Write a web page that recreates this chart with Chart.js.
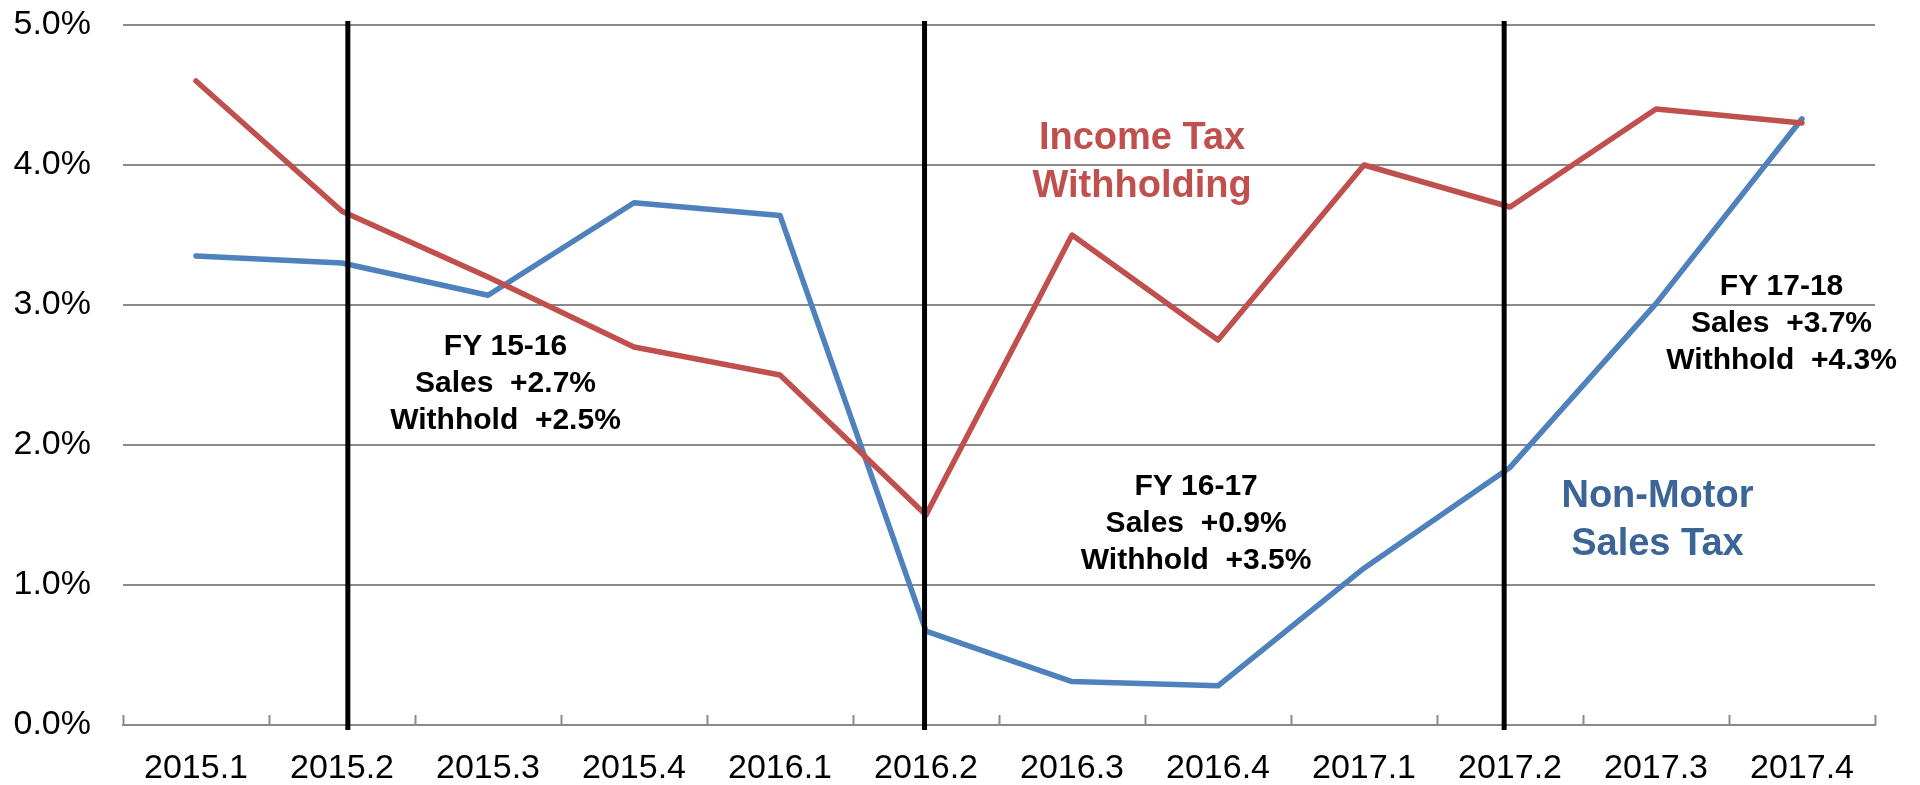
<!DOCTYPE html>
<html>
<head>
<meta charset="utf-8">
<script src="https://cdn.jsdelivr.net/npm/chart.js@4.4.0/dist/chart.umd.min.js"></script>
<style>
    html, body { margin: 0; padding: 0; background: #fff; }
    #wrap { width: 1920px; height: 785px; }
</style>
</head>
<body>
<div id="wrap"><canvas id="tax-chart"></canvas></div>
<script>
const quarters = ['2015.1', '2015.2', '2015.3', '2015.4', '2016.1', '2016.2',
    '2016.3', '2016.4', '2017.1', '2017.2', '2017.3', '2017.4'];
const withholding = [4.6, 3.67, 3.2, 2.7, 2.5, 1.5, 3.5, 2.75, 4.0, 3.7, 4.4, 4.3];
const salesTax = [3.35, 3.3, 3.07, 3.73, 3.64, 0.67, 0.31, 0.28, 1.12, 1.84, 3.01, 4.33];
const yTicks = [0, 1, 2, 3, 4, 5];
const fyBreaks = ['2015.2', '2016.2', '2017.2'];
const seriesNames = ['Income Tax Withholding', 'Non-Motor Sales Tax'];
const seriesLabelLines = [['Income Tax', 'Withholding'], ['Non-Motor', 'Sales Tax']];
const fyNotes = [
    ['FY 15-16', 'Sales  +2.7%', 'Withhold  +2.5%'],
    ['FY 16-17', 'Sales  +0.9%', 'Withhold  +3.5%'],
    ['FY 17-18', 'Sales  +3.7%', 'Withhold  +4.3%']
];

const red = '#C0504D';
const blue = '#4F81BD';
const gridGrey = '#8a8a8a';
const tickFont = {family: '"Liberation Sans", Arial, sans-serif', size: 34};

// where the text blocks sit, in axis units (category index, percent)
const notePlaces = [{x: 2.12, y: 2.70}, {x: 6.85, y: 1.70}, {x: 10.86, y: 3.13}];
const seriesLabelPlaces = [{x: 6.48, y: 4.19, color: red}, {x: 10.01, y: 1.63, color: '#3B6497'}];
// the separators in the original are hand placed, a little off the quarter centres
const breakNudge = [0.04, -0.01, -0.04];

const extras = {
    id: 'extras',
    afterDatasetsDraw(chart) {
        const ctx = chart.ctx;
        const x = chart.scales.x;
        const y = chart.scales.y;
        const area = chart.chartArea;
        ctx.save();

        // small tick marks on the category axis
        ctx.strokeStyle = gridGrey;
        ctx.lineWidth = 2;
        for (let i = 0; i <= quarters.length; i++) {
            const px = Math.round(x.getPixelForValue(i - 0.5)) + 0.5;
            ctx.beginPath();
            ctx.moveTo(px, area.bottom);
            ctx.lineTo(px, area.bottom - 10);
            ctx.stroke();
        }

        // fiscal year separators
        ctx.strokeStyle = '#000';
        ctx.lineWidth = 5;
        fyBreaks.forEach((q, n) => {
            const px = x.getPixelForValue(quarters.indexOf(q) + breakNudge[n]);
            ctx.beginPath();
            ctx.moveTo(px, area.top - 4);
            ctx.lineTo(px, area.bottom + 5);
            ctx.stroke();
        });

        ctx.textAlign = 'center';
        ctx.textBaseline = 'middle';

        ctx.fillStyle = '#000';
        ctx.font = 'bold 30px "Liberation Sans", Arial, sans-serif';
        fyNotes.forEach((lines, n) => {
            const cx = x.getPixelForValue(notePlaces[n].x);
            const cy = y.getPixelForValue(notePlaces[n].y);
            lines.forEach((t, k) => ctx.fillText(t, cx, cy + k * 37));
        });

        ctx.font = 'bold 38px "Liberation Sans", Arial, sans-serif';
        seriesLabelLines.forEach((lines, n) => {
            const p = seriesLabelPlaces[n];
            ctx.fillStyle = p.color;
            const cx = x.getPixelForValue(p.x);
            const cy = y.getPixelForValue(p.y);
            lines.forEach((t, k) => ctx.fillText(t, cx, cy + k * 48));
        });
        ctx.restore();
    }
};

const taxChart = document.getElementById('tax-chart');

new Chart(taxChart, {
    type: 'line',
    data: {
        labels: quarters,
        datasets: [{
            label: seriesNames[0],
            data: withholding,
            borderColor: red,
            backgroundColor: red,
            borderWidth: 5.5,
            pointRadius: 0,
            tension: 0,
            borderJoinStyle: 'round',
            borderCapStyle: 'round'
        }, {
            label: seriesNames[1],
            data: salesTax,
            borderColor: blue,
            backgroundColor: blue,
            borderWidth: 5.5,
            pointRadius: 0,
            tension: 0,
            borderJoinStyle: 'round',
            borderCapStyle: 'round'
        }]
    },
    options: {
        responsive: true,
        maintainAspectRatio: false,
        animation: false,
        layout: {
            padding: {top: 25, right: 45, left: 12, bottom: 0}
        },
        plugins: {
            legend: {display: false},
            tooltip: {enabled: false}
        },
        scales: {
            x: {
                offset: true,
                grid: {display: false, drawTicks: false},
                border: {display: true, color: gridGrey, width: 2},
                afterFit: axis => { axis.height = 60; },
                ticks: {
                    color: '#000',
                    padding: 23,
                    maxRotation: 0,
                    autoSkip: false,
                    font: tickFont
                }
            },
            y: {
                min: yTicks[0],
                max: yTicks[yTicks.length - 1],
                afterBuildTicks: axis => { axis.ticks = yTicks.map(v => ({value: v})); },
                afterFit: axis => { axis.width = 111; },
                // invisible tick marks give the gap between labels and plot
                grid: {color: gridGrey, lineWidth: 2, drawTicks: true, tickLength: 32, tickColor: 'transparent'},
                border: {display: false},
                ticks: {
                    color: '#000',
                    padding: 0,
                    callback: v => v.toFixed(1) + '%',
                    font: tickFont
                }
            }
        }
    },
    plugins: [extras]
});
</script>
</body>
</html>
